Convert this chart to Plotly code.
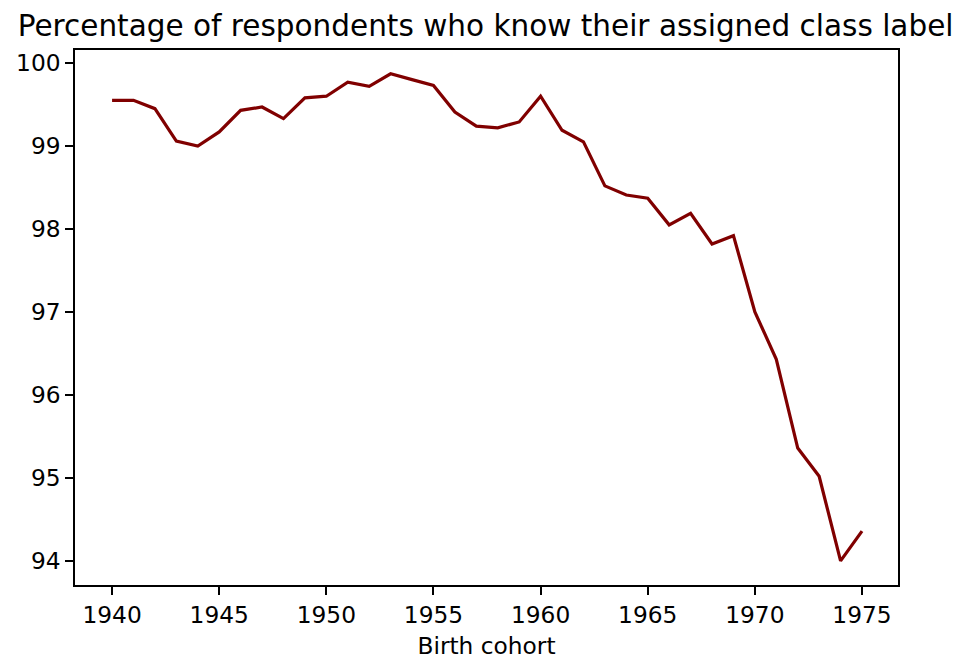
import plotly.graph_objects as go

# Birth cohort years
years = list(range(1940, 1976))
# Percentage of respondents who know their assigned class label
pct_known = [99.55, 99.55, 99.45, 99.06, 99.00, 99.17, 99.43, 99.47, 99.33, 99.58,
             99.60, 99.77, 99.72, 99.87, 99.80, 99.73, 99.41, 99.24, 99.22, 99.29,
             99.60, 99.19, 99.05, 98.52, 98.41, 98.37, 98.05, 98.19, 97.82, 97.92,
             97.00, 96.43, 95.36, 95.02, 94.00, 94.36]
x_ticks = [1940, 1945, 1950, 1955, 1960, 1965, 1970, 1975]
y_ticks = [94, 95, 96, 97, 98, 99, 100]

fig = go.Figure(go.Scatter(x=years, y=pct_known, mode='lines',
                           line=dict(color='#800000', width=3.2), showlegend=False))

axis_style = dict(showline=True, linecolor='black', linewidth=1.6, mirror=True,
                  ticks='outside', ticklen=8, tickcolor='black', tickwidth=1.5,
                  showgrid=False, zeroline=False, automargin=False,
                  tickfont=dict(size=23.3, color='black'))

fig.update_layout(
    width=961, height=660,
    paper_bgcolor='white', plot_bgcolor='white',
    font=dict(family='DejaVu Sans', color='black'),
    title=dict(text='Percentage of respondents who know their assigned class label',
               x=0.497, xanchor='center', y=0.973, yanchor='middle',
               font=dict(size=29.5, color='black')),
    margin=dict(l=67, r=71, t=42, b=83),
    xaxis=dict(range=[1938.27, 1976.68], tickvals=x_ticks,
               title=dict(text='Birth cohort', font=dict(size=23.3), standoff=11),
               **axis_style),
    yaxis=dict(range=[93.71, 100.157], tickvals=y_ticks, **axis_style),
)

fig.write_html("out.html")
